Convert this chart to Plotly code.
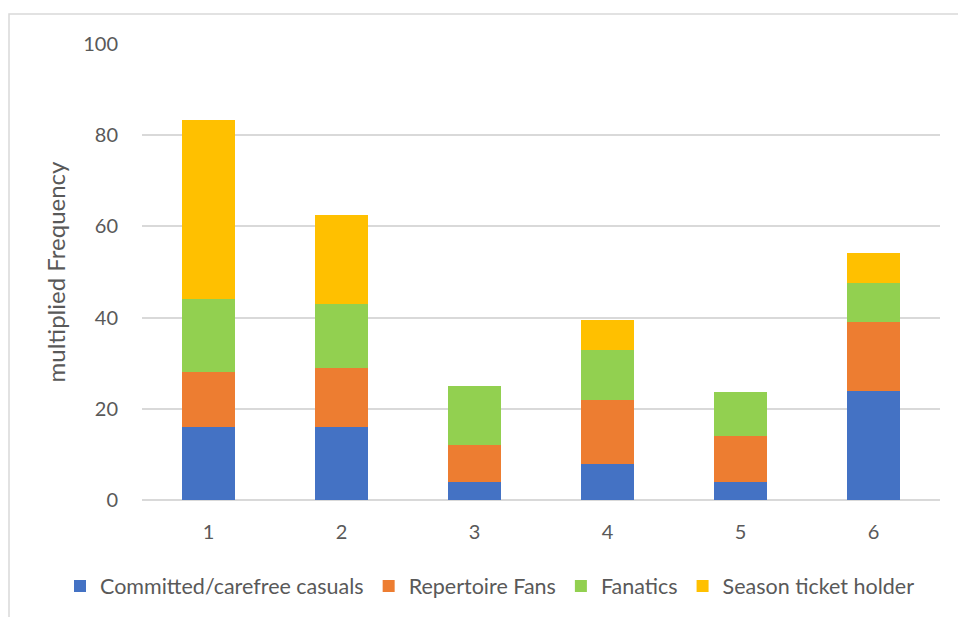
import plotly.graph_objects as go

categories = ["1", "2", "3", "4", "5", "6"]
series_names = ["Committed/carefree casuals", "Repertoire Fans", "Fanatics", "Season ticket holder"]
casuals = [16, 16, 4, 8, 4, 24]
repertoire = [12, 13, 8, 14, 10, 15]
fanatics = [16, 14, 13, 11, 9.6, 8.6]
season = [39.4, 19.6, 0, 6.4, 0, 6.6]
y_ticks = [0, 20, 40, 60, 80, 100]
colors = ["#4472C4", "#ED7D31", "#92D050", "#FFC000"]

font_family = "Lato, 'Open Sans', sans-serif"
text_color = "#595959"

fig = go.Figure()
for name, vals, col in zip(series_names, [casuals, repertoire, fanatics, season], colors):
    fig.add_trace(go.Bar(
        x=categories, y=vals, name=name,
        marker=dict(color=col, line=dict(width=0)),
    ))

fig.update_layout(
    barmode="stack",
    bargap=0.6,
    width=958, height=617,
    margin=dict(l=142, r=18, t=44, b=116),
    paper_bgcolor="white",
    plot_bgcolor="white",
    font=dict(family=font_family, color=text_color, size=20),
    showlegend=True,
    legend=dict(
        orientation="h",
        x=(60 - 142) / 798, xanchor="left",
        y=(501 - 586) / 457, yanchor="middle",
        font=dict(size=21.5, color=text_color),
        traceorder="normal",
        itemwidth=30,
        itemsizing="constant",
        bgcolor="rgba(0,0,0,0)",
    ),
    xaxis=dict(
        type="category",
        showgrid=False,
        showline=False,
        ticks="",
        ticklabelstandoff=18,
        tickfont=dict(size=20, color=text_color),
    ),
    yaxis=dict(
        range=[0, 100],
        tickvals=y_ticks,
        showgrid=True,
        gridcolor="#D9D9D9",
        gridwidth=1.5,
        zeroline=True,
        zerolinecolor="#D9D9D9",
        zerolinewidth=1.5,
        showline=False,
        ticks="",
        ticklabelstandoff=23,
        tickfont=dict(size=20, color=text_color),
        title=dict(text="multiplied Frequency", font=dict(size=24, color=text_color), standoff=10),
    ),
    shapes=[dict(
        type="rect", xref="paper", yref="paper",
        x0=(9 - 142) / 798, x1=(975 - 142) / 798,
        y0=(501 - 640) / 457, y1=(501 - 14) / 457,
        line=dict(color="#D9D9D9", width=1.5),
        fillcolor="rgba(0,0,0,0)",
        layer="below",
    )],
)

fig.write_html("out.html")
